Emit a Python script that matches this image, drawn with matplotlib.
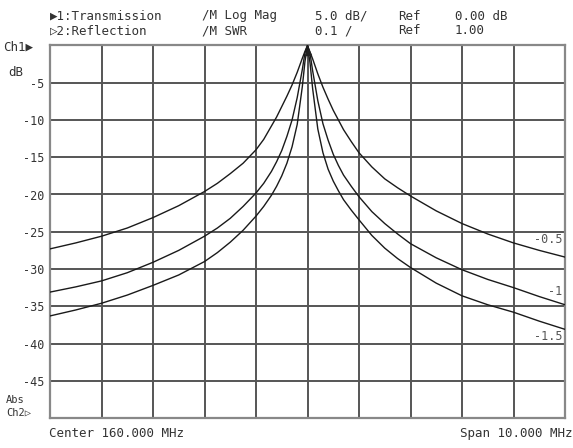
import matplotlib.pyplot as plt

plt.rcParams['font.family'] = ['DejaVu Sans Mono', 'DejaVu Sans']

# frequency offset from center (MHz)
offset = [-5, -4.5, -4, -3.5, -3, -2.5, -2, -1.75, -1.5, -1.25, -1, -0.85, -0.7, -0.6, -0.5, -0.4,
          -0.3, -0.2, -0.1, -0.05, 0, 0.05, 0.1, 0.2, 0.3, 0.4, 0.5, 0.6, 0.7, 0.85, 1, 1.25, 1.5,
          1.75, 2, 2.5, 3, 3.5, 4, 4.5, 5]

# transmission (dB) for the three curves
trace_05 = [-27.3, -26.5, -25.6, -24.5, -23.1, -21.5, -19.6, -18.5, -17.2, -15.8, -14.0, -12.6, -10.8,
            -9.6, -8.2, -6.8, -5.3, -3.6, -1.7, -0.8, 0, -0.9, -1.8, -3.8, -5.6, -7.2, -8.7, -10.0,
            -11.3, -12.9, -14.4, -16.3, -17.9, -19.1, -20.2, -22.2, -23.9, -25.3, -26.5, -27.5, -28.4]
trace_10 = [-33.1, -32.4, -31.6, -30.5, -29.1, -27.5, -25.6, -24.5, -23.2, -21.6, -19.8, -18.5, -16.9,
            -15.6, -14.1, -12.2, -10.0, -7.0, -3.2, -1.0, 0, -1.1, -3.4, -7.4, -10.5, -12.7, -14.6,
            -16.1, -17.4, -18.9, -20.3, -22.3, -23.9, -25.3, -26.6, -28.5, -30.1, -31.4, -32.5, -33.7,
            -34.8]
trace_15 = [-36.3, -35.5, -34.6, -33.5, -32.2, -30.8, -29.0, -27.8, -26.4, -24.8, -22.9, -21.6, -20.1,
            -18.9, -17.5, -15.8, -13.6, -10.6, -5.5, -2.2, 0, -2.4, -5.8, -11.2, -14.4, -16.6, -18.2,
            -19.5, -20.7, -22.1, -23.4, -25.5, -27.2, -28.6, -29.8, -31.9, -33.6, -34.8, -35.8, -37.0,
            -38.1]
trace_names = ['-0.5', '-1', '-1.5']
label_y = [-26.1, -33.0, -39.1]

y_ticks = [-5, -10, -15, -20, -25, -30, -35, -40, -45]

txt = '#333333'
fig = plt.figure(figsize=(5.73, 4.48), dpi=100)
ax = fig.add_axes([50 / 573, 30 / 448, 515 / 573, 372.5 / 448])

for tr in (trace_05, trace_10, trace_15):
    ax.plot(offset, tr, color='#1a1a1a', lw=1.0, zorder=3)

for name, ly in zip(trace_names, label_y):
    ax.text(4.95, ly, name, ha='right', va='center', fontsize=8.5, color='#555555', zorder=4)

# marker at the peak
ax.plot([0], [-0.9], marker='^', ms=5, color='#222222', zorder=5, clip_on=False)

ax.set_xlim(-5, 5)
ax.set_ylim(-50, 0)
ax.set_xticks(range(-4, 5))
ax.set_xticklabels([])
ax.set_yticks(y_ticks)
ax.set_yticklabels([str(v) for v in y_ticks], fontsize=8.5, color=txt)
ax.tick_params(length=0, pad=4)
ax.grid(True, color='#555555', lw=1.4)
for s in ax.spines.values():
    s.set_color('#888888')
    s.set_linewidth(1.6)

# header
fs = 9
row1, row2 = 1 - 16 / 448, 1 - 31 / 448
cols = [50, 202, 315, 398, 455]
line1 = ['\u25b61:Transmission', '/M Log Mag', '5.0 dB/', 'Ref', '0.00 dB']
line2 = ['\u25b72:Reflection', '/M SWR', '0.1 /', 'Ref', '1.00']
for c, a, b in zip(cols, line1, line2):
    fig.text(c / 573, row1, a, fontsize=fs, color=txt, va='center')
    fig.text(c / 573, row2, b, fontsize=fs, color=txt, va='center')

# side labels
fig.text(3 / 573, 1 - 47 / 448, 'Ch1\u25b6', fontsize=fs, color=txt, va='center')
fig.text(8 / 573, 1 - 72 / 448, 'dB', fontsize=fs, color=txt, va='center')
fig.text(6 / 573, 1 - 400 / 448, 'Abs', fontsize=7.5, color=txt, va='center')
fig.text(6 / 573, 1 - 413 / 448, 'Ch2\u25b7', fontsize=7.5, color=txt, va='center')
fig.text(49 / 573, 1 - 433 / 448, 'Center 160.000 MHz', fontsize=fs, color=txt, va='center')
fig.text(572 / 573, 1 - 433 / 448, 'Span 10.000 MHz', fontsize=fs, color=txt, va='center', ha='right')

fig.savefig('out.png', dpi=100)
